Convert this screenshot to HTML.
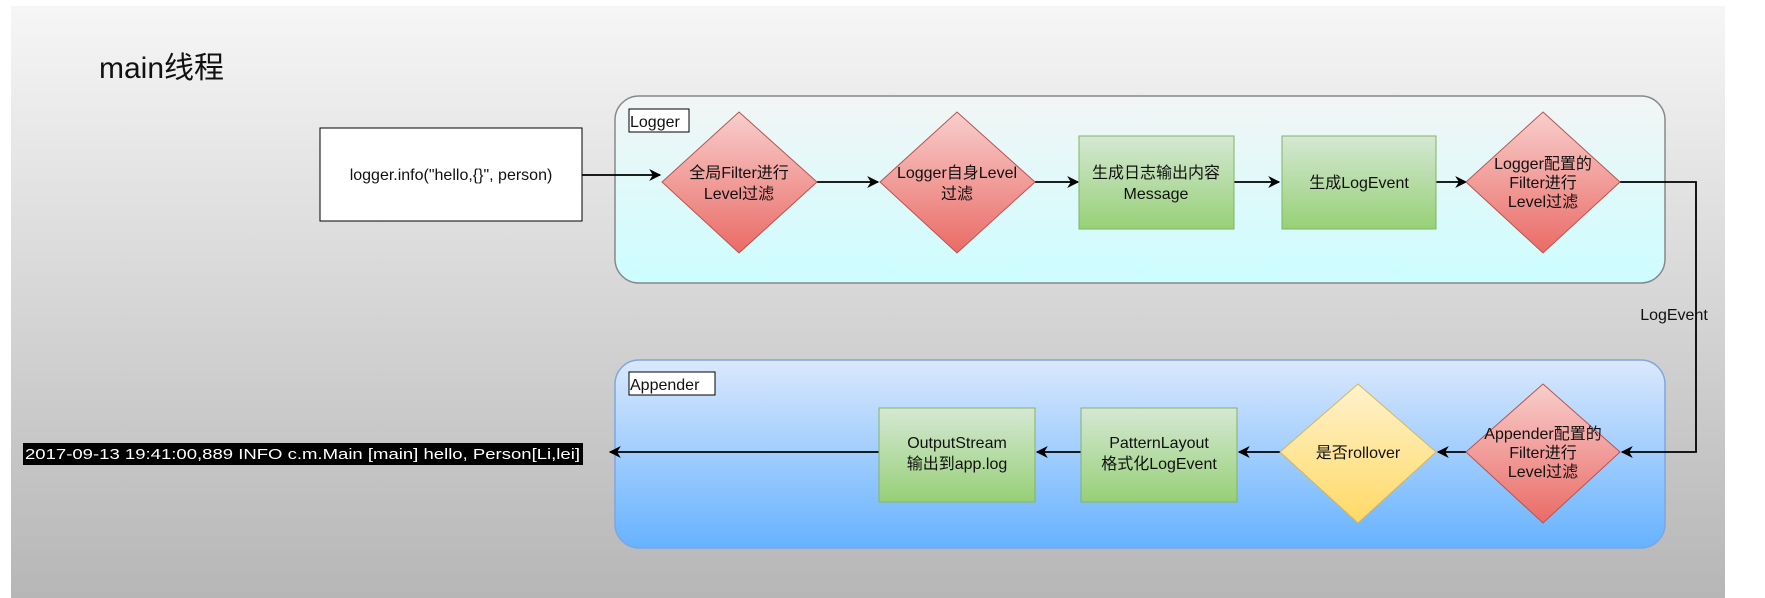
<!DOCTYPE html>
<html><head><meta charset="utf-8"><style>
html,body{margin:0;padding:0;background:#fff;}
svg{display:block;}
text{font-family:"Liberation Sans","Noto Sans CJK SC",sans-serif;font-size:16px;fill:#111;}
</style></head><body>
<svg width="1765" height="598" viewBox="0 0 1765 598" xmlns="http://www.w3.org/2000/svg">
<defs>
<linearGradient id="bg" x1="0" y1="0" x2="0" y2="1"><stop offset="0" stop-color="#f6f6f6"/><stop offset="1" stop-color="#b6b6b6"/></linearGradient>
<linearGradient id="lg" x1="0" y1="0" x2="0" y2="1"><stop offset="0" stop-color="#f3f5f5"/><stop offset="1" stop-color="#ccfdff"/></linearGradient>
<linearGradient id="ag" x1="0" y1="0" x2="0" y2="1"><stop offset="0" stop-color="#dae8fc"/><stop offset="1" stop-color="#66b2ff"/></linearGradient>
<linearGradient id="rd" x1="0" y1="0" x2="0" y2="1"><stop offset="0" stop-color="#f8cecc"/><stop offset="1" stop-color="#ea6b66"/></linearGradient>
<linearGradient id="gr" x1="0" y1="0" x2="0" y2="1"><stop offset="0" stop-color="#d5e8d4"/><stop offset="1" stop-color="#97d077"/></linearGradient>
<linearGradient id="yl" x1="0" y1="0" x2="0" y2="1"><stop offset="0" stop-color="#fff2cc"/><stop offset="1" stop-color="#ffd966"/></linearGradient>
<marker id="ar" viewBox="0 0 10 10" refX="9" refY="5" markerWidth="13" markerHeight="12" orient="auto" markerUnits="userSpaceOnUse"><path d="M0,0 L10,5 L0,10 L3,5 z" fill="#000"/></marker>
</defs>
<rect x="11" y="6" width="1714" height="592" fill="url(#bg)"/>
<text x="99" y="78" style="font-size:30px">main线程</text>

<rect x="615" y="96" width="1050" height="187" rx="24" fill="url(#lg)" stroke="#888" stroke-width="1.5"/>
<rect x="629" y="109" width="60" height="23" fill="#fff" stroke="#000"/>
<text x="630" y="127">Logger</text>

<rect x="615" y="360" width="1050" height="188" rx="24" fill="url(#ag)" stroke="#7ea6e0" stroke-width="1.5"/>
<rect x="629" y="372" width="86" height="23" fill="#fff" stroke="#000"/>
<text x="630" y="390">Appender</text>

<rect x="320" y="128" width="262" height="93" fill="#fff" stroke="#000"/>
<text x="451" y="180" text-anchor="middle">logger.info("hello,{}", person)</text>

<g stroke-width="1.8" stroke="#000" fill="none">
<line x1="582" y1="175" x2="660" y2="175" marker-end="url(#ar)"/>
<line x1="817" y1="182" x2="878" y2="182" marker-end="url(#ar)"/>
<line x1="1035" y1="182" x2="1078" y2="182" marker-end="url(#ar)"/>
<line x1="1233" y1="182" x2="1279" y2="182" marker-end="url(#ar)"/>
<line x1="1434" y1="182" x2="1466" y2="182" marker-end="url(#ar)"/>
<polyline points="1620,182 1696,182 1696,452 1622,452" marker-end="url(#ar)"/>
<line x1="1466" y1="452" x2="1438" y2="452" marker-end="url(#ar)"/>
<line x1="1280" y1="452" x2="1239" y2="452" marker-end="url(#ar)"/>
<line x1="1081" y1="452" x2="1037" y2="452" marker-end="url(#ar)"/>
<line x1="879" y1="452" x2="610" y2="452" marker-end="url(#ar)"/>
</g>

<polygon points="739,112 817,182 739,253 662,182" fill="url(#rd)" stroke="#b85450"/>
<text x="739" y="178" text-anchor="middle">全局Filter进行</text>
<text x="739" y="199" text-anchor="middle">Level过滤</text>

<polygon points="957,112 1035,182 957,253 880,182" fill="url(#rd)" stroke="#b85450"/>
<text x="957" y="178" text-anchor="middle">Logger自身Level</text>
<text x="957" y="199" text-anchor="middle">过滤</text>

<rect x="1079" y="136" width="155" height="93" fill="url(#gr)" stroke="#82b366"/>
<text x="1156" y="178" text-anchor="middle">生成日志输出内容</text>
<text x="1156" y="199" text-anchor="middle">Message</text>

<rect x="1282" y="136" width="154" height="93" fill="url(#gr)" stroke="#82b366"/>
<text x="1359" y="188" text-anchor="middle">生成LogEvent</text>

<polygon points="1543,112 1620,182 1543,253 1466,182" fill="url(#rd)" stroke="#b85450"/>
<text x="1543" y="169" text-anchor="middle">Logger配置的</text>
<text x="1543" y="188" text-anchor="middle">Filter进行</text>
<text x="1543" y="207" text-anchor="middle">Level过滤</text>

<text x="1674" y="320" text-anchor="middle">LogEvent</text>

<polygon points="1543,384 1620,452 1543,523 1466,452" fill="url(#rd)" stroke="#b85450"/>
<text x="1543" y="439" text-anchor="middle">Appender配置的</text>
<text x="1543" y="458" text-anchor="middle">Filter进行</text>
<text x="1543" y="477" text-anchor="middle">Level过滤</text>

<polygon points="1358,384 1436,452 1358,523 1280,452" fill="url(#yl)" stroke="#d6b656"/>
<text x="1358" y="458" text-anchor="middle">是否rollover</text>

<rect x="1081" y="408" width="156" height="94" fill="url(#gr)" stroke="#82b366"/>
<text x="1159" y="448" text-anchor="middle">PatternLayout</text>
<text x="1159" y="469" text-anchor="middle">格式化LogEvent</text>

<rect x="879" y="408" width="156" height="94" fill="url(#gr)" stroke="#82b366"/>
<text x="957" y="448" text-anchor="middle">OutputStream</text>
<text x="957" y="469" text-anchor="middle">输出到app.log</text>

<rect x="23" y="443" width="560" height="22" fill="#000"/>
<text x="25" y="459" textLength="555" lengthAdjust="spacingAndGlyphs" style="fill:#fff;font-size:15px">2017-09-13 19:41:00,889 INFO c.m.Main [main] hello, Person[Li,lei]</text>
</svg>
</body></html>
